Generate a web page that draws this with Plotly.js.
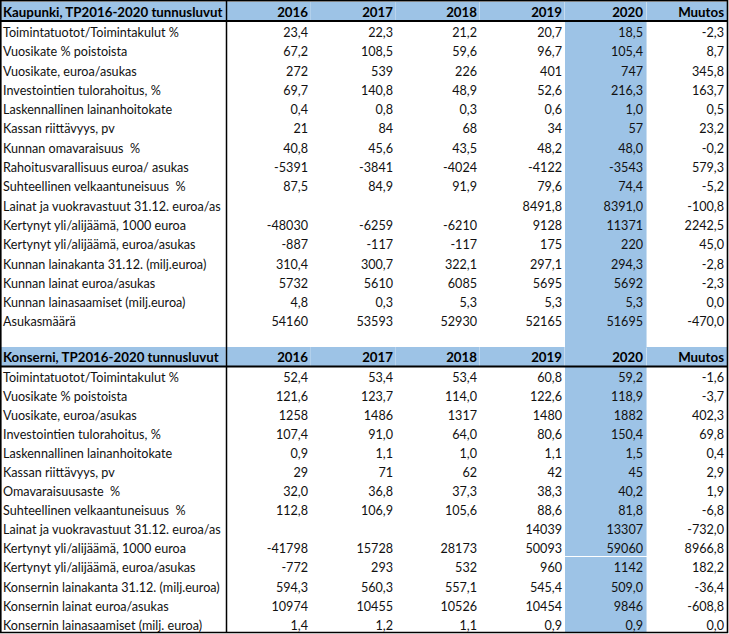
<!DOCTYPE html>
<html>
<head>
<meta charset="utf-8">
<script src="https://cdn.plot.ly/plotly-3.0.1.min.js"></script>
<style>
html,body{margin:0;padding:0;background:#fff;overflow:hidden;width:729px;height:634px;}
#chart{position:absolute;left:-5px;top:-2px;width:738px;height:636px;}
</style>
</head>
<body>
<div id="chart"></div>
<script>
// ---- data ----
const years = ['2016', '2017', '2018', '2019', '2020'];
const changeLabel = 'Muutos';

const kaupunkiTitle = 'Kaupunki, TP2016-2020 tunnusluvut';
const kaupunkiLabels = [
  'Toimintatuotot/Toimintakulut %', 'Vuosikate % poistoista', 'Vuosikate, euroa/asukas',
  'Investointien tulorahoitus, %', 'Laskennallinen lainanhoitokate', 'Kassan riittävyys, pv',
  'Kunnan omavaraisuus  %', 'Rahoitusvarallisuus euroa/ asukas', 'Suhteellinen velkaantuneisuus  %',
  'Lainat ja vuokravastuut 31.12. euroa/as', 'Kertynyt yli/alijäämä, 1000 euroa',
  'Kertynyt yli/alijäämä, euroa/asukas', 'Kunnan lainakanta 31.12. (milj.euroa)',
  'Kunnan lainat euroa/asukas', 'Kunnan lainasaamiset (milj.euroa)', 'Asukasmäärä'
];
const kaupunkiDecimals = [1, 1, 0, 1, 1, 0, 1, 0, 1, 1, 0, 0, 1, 0, 1, 0];
const kaupunki2016 = [23.4, 67.2, 272, 69.7, 0.4, 21, 40.8, -5391, 87.5, null, -48030, -887, 310.4, 5732, 4.8, 54160];
const kaupunki2017 = [22.3, 108.5, 539, 140.8, 0.8, 84, 45.6, -3841, 84.9, null, -6259, -117, 300.7, 5610, 0.3, 53593];
const kaupunki2018 = [21.2, 59.6, 226, 48.9, 0.3, 68, 43.5, -4024, 91.9, null, -6210, -117, 322.1, 6085, 5.3, 52930];
const kaupunki2019 = [20.7, 96.7, 401, 52.6, 0.6, 34, 48.2, -4122, 79.6, 8491.8, 9128, 175, 297.1, 5695, 5.3, 52165];
const kaupunki2020 = [18.5, 105.4, 747, 216.3, 1.0, 57, 48.0, -3543, 74.4, 8391.0, 11371, 220, 294.3, 5692, 5.3, 51695];
const kaupunkiMuutos = [-2.3, 8.7, 345.8, 163.7, 0.5, 23.2, -0.2, 579.3, -5.2, -100.8, 2242.5, 45.0, -2.8, -2.3, 0.0, -470.0];

const konserniTitle = 'Konserni, TP2016-2020 tunnusluvut';
const konserniLabels = [
  'Toimintatuotot/Toimintakulut %', 'Vuosikate % poistoista', 'Vuosikate, euroa/asukas',
  'Investointien tulorahoitus, %', 'Laskennallinen lainanhoitokate', 'Kassan riittävyys, pv',
  'Omavaraisuusaste  %', 'Suhteellinen velkaantuneisuus  %', 'Lainat ja vuokravastuut 31.12. euroa/as',
  'Kertynyt yli/alijäämä, 1000 euroa', 'Kertynyt yli/alijäämä, euroa/asukas',
  'Konsernin lainakanta 31.12. (milj.euroa)', 'Konsernin lainat euroa/asukas',
  'Konsernin lainasaamiset (milj. euroa)'
];
const konserniDecimals = [1, 1, 0, 1, 1, 0, 1, 1, 0, 0, 0, 1, 0, 1];
const konserni2016 = [52.4, 121.6, 1258, 107.4, 0.9, 29, 32.0, 112.8, null, -41798, -772, 594.3, 10974, 1.4];
const konserni2017 = [53.4, 123.7, 1486, 91.0, 1.1, 71, 36.8, 106.9, null, 15728, 293, 560.3, 10455, 1.2];
const konserni2018 = [53.4, 114.0, 1317, 64.0, 1.0, 62, 37.3, 105.6, null, 28173, 532, 557.1, 10526, 1.1];
const konserni2019 = [60.8, 122.6, 1480, 80.6, 1.1, 42, 38.3, 88.6, 14039, 50093, 960, 545.4, 10454, 0.9];
const konserni2020 = [59.2, 118.9, 1882, 150.4, 1.5, 45, 40.2, 81.8, 13307, 59060, 1142, 509.0, 9846, 0.9];
const konserniMuutos = [-1.6, -3.7, 402.3, 69.8, 0.4, 2.9, 1.9, -6.8, -732.0, 8966.8, 182.2, -36.4, -608.8, 0.0];

// ---- helpers ----
const PW = 738, PH = 636, OX = 5, OY = 2;      // paper is shifted by (-OX, -OY) on screen
const BLUE = '#9DC3E6';
const FONT = 'Lato, "Liberation Sans", sans-serif';
const FS = 12.6, HFS = 13.3;
const nb = s => String(s).replace(/ /g, '\u00a0');
function fmt(v, d) {
  if (v === null || v === undefined) return '';
  return v.toFixed(d).replace('.', ',');
}
function col(vals, decs) { return vals.map((v, i) => fmt(v, decs[i])); }
const px = x => (x + OX) / PW;          // screen px -> paper fraction
const py = y => 1 - (y + OY) / PH;

const aligns = ['left', 'right', 'right', 'right', 'right', 'right', 'right'];
const NONE = 'rgba(0,0,0,0)';

// background: fills only (true column borders)
function bgTable(nRows, yTop, yBot, headH, cellH) {
  const empty = aligns.map(() => Array(nRows).fill(''));
  return {
    type: 'table',
    domain: {x: [px(0), px(727.5)], y: [py(yBot), py(yTop)]},
    columnwidth: [226, 85, 85, 84, 85, 82, 80.5],
    header: {values: aligns.map(() => ''), height: headH, fill: {color: BLUE},
      line: {width: 0, color: NONE}, font: {size: FS}},
    cells: {values: empty, height: cellH,
      fill: {color: ['white', 'white', 'white', 'white', 'white', BLUE, 'white']},
      line: {width: 0, color: NONE}, font: {size: FS}}
  };
}

// foreground: text only
function fgTable(title, labels, decs, series, muutos, yTop, yBot, headH, cellH) {
  const cols = [labels.map(nb)].concat(series.map(s => col(s, decs)));
  cols.push(muutos.map(v => fmt(v, 1)));
  return {
    type: 'table',
    domain: {x: [px(-5), px(732)], y: [py(yBot), py(yTop)]},
    columnwidth: [236, 85, 85, 84, 85, 81, 81],
    header: {
      values: [title].concat(years, [changeLabel]).map(nb),
      align: aligns, height: headH,
      fill: {color: NONE}, line: {width: 0, color: NONE},
      font: {family: FONT, size: HFS, color: '#000', weight: 700}
    },
    cells: {
      values: cols, align: aligns, height: cellH,
      fill: {color: NONE}, line: {width: 0, color: NONE},
      font: {family: FONT, size: FS, color: '#111'}
    }
  };
}

const bg1 = bgTable(kaupunkiLabels.length + 1, 1.5, 350, 18.5, 19.3);
const bg2 = bgTable(konserniLabels.length, 346.5, 634, 19.5, 19.05);
const fg1 = fgTable(kaupunkiTitle, kaupunkiLabels, kaupunkiDecimals,
  [kaupunki2016, kaupunki2017, kaupunki2018, kaupunki2019, kaupunki2020], kaupunkiMuutos,
  -0.8, 340, 20.3, 19.3);
const fg2 = fgTable(konserniTitle, konserniLabels, konserniDecimals,
  [konserni2016, konserni2017, konserni2018, konserni2019, konserni2020], konserniMuutos,
  344.2, 634, 20.3, 19.05);

const line = (x0, y0, x1, y1, w) => ({type: 'line', xref: 'paper', yref: 'paper',
  x0: px(x0), y0: py(y0), x1: px(x1), y1: py(y1), line: {color: '#000', width: w}, layer: 'above'});

const layout = {
  width: PW, height: PH,
  margin: {l: 0, r: 0, t: 0, b: 0, pad: 0},
  paper_bgcolor: '#fff',
  showlegend: false,
  shapes: [
    line(226.5, 0, 226.5, 633, 1.5),
    line(0, 21, 727.5, 21, 2),
    line(0, 366.5, 727.5, 366.5, 2),
    {type: 'rect', xref: 'paper', yref: 'paper', x0: px(0.8), y0: py(632.5), x1: px(727.5), y1: py(0.8),
     line: {color: '#000', width: 1.6}, fillcolor: NONE, layer: 'above'}
  ]
};

Plotly.newPlot('chart', [bg1, bg2, fg1, fg2], layout, {displayModeBar: false, staticPlot: true});
</script>
</body>
</html>
